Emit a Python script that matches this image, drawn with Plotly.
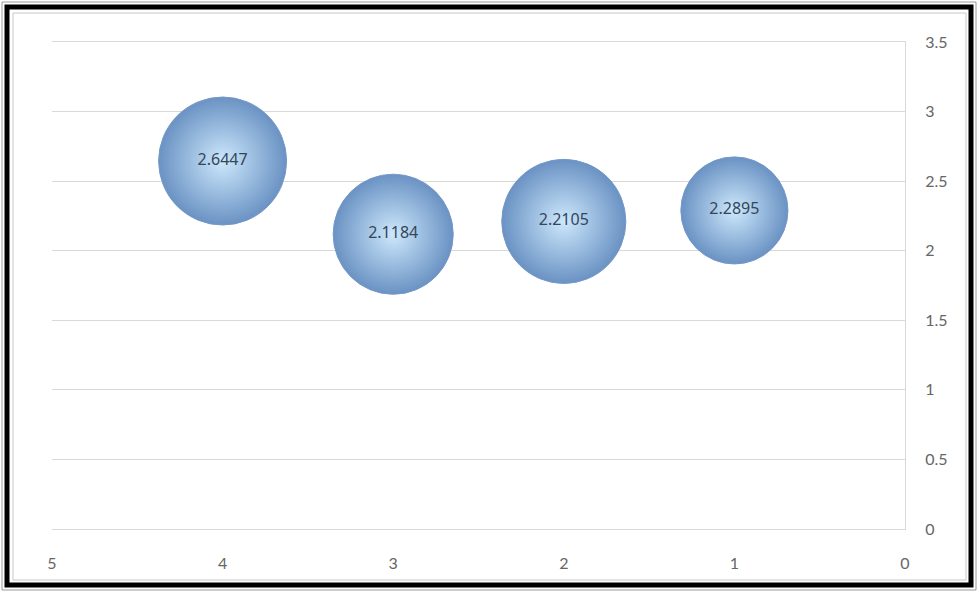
import plotly.graph_objects as go

# Data
x_values = [4, 3, 2, 1]
y_values = [2.6447, 2.1184, 2.2105, 2.2895]
bubble_sizes = [1.00, 0.88, 0.94, 0.70]
labels = ["2.6447", "2.1184", "2.2105", "2.2895"]
x_ticks = [5, 4, 3, 2, 1, 0]
y_ticks = [0, 0.5, 1, 1.5, 2, 2.5, 3, 3.5]

W, H = 978, 592
ML, MR, MT, MB = 52, 73, 42, 63
PW, PH = W - ML - MR, H - MT - MB
MAX_D = 128

fig = go.Figure()
fig.add_trace(go.Scatter(
    x=x_values, y=y_values,
    mode="markers+text",
    text=labels,
    textposition="middle center",
    textfont=dict(family="Noto Sans, Lato, sans-serif", size=16, color="#34465a"),
    marker=dict(
        size=bubble_sizes,
        sizemode="area",
        sizeref=2.0 * max(bubble_sizes) / (MAX_D ** 2),
        color="#6a92c3",
        gradient=dict(type="radial", color="#cde8fc"),
        line=dict(width=1, color="#7499c7"),
        opacity=1,
    ),
    hoverinfo="x+y",
    showlegend=False,
))

def px_x(p):
    return (p - ML) / PW

def px_y(p):
    return 1 - (p - MT) / PH

shapes = []
shapes.append(dict(type="rect", xref="paper", yref="paper",
                   x0=px_x(2), x1=px_x(976), y0=px_y(590), y1=px_y(2),
                   line=dict(color="#9a9a9a", width=1), layer="above"))
shapes.append(dict(type="rect", xref="paper", yref="paper",
                   x0=px_x(7), x1=px_x(971), y0=px_y(585), y1=px_y(7),
                   line=dict(color="#000000", width=5), layer="above"))
shapes.append(dict(type="rect", xref="paper", yref="paper",
                   x0=px_x(13), x1=px_x(966), y0=px_y(580), y1=px_y(13),
                   line=dict(color="#c8c8c8", width=1), layer="above"))

fig.update_layout(
    width=W, height=H,
    margin=dict(l=ML, r=MR, t=MT, b=MB),
    paper_bgcolor="white",
    plot_bgcolor="white",
    shapes=shapes,
    font=dict(family="Lato, Noto Sans, sans-serif", color="#595959", size=16),
    xaxis=dict(
        range=[5, 0],
        tickvals=x_ticks,
        ticktext=[str(v) for v in x_ticks],
        showgrid=False,
        zeroline=False,
        showline=True,
        mirror=True,
        linecolor="#d9d9d9",
        linewidth=1,
        ticks="",
        ticklabelstandoff=20,
        tickfont=dict(size=16, color="#666666"),
    ),
    yaxis=dict(
        range=[0, 3.5],
        side="right",
        tickvals=y_ticks,
        ticktext=[f"{v:g}" for v in y_ticks],
        showgrid=True,
        gridcolor="#d9d9d9",
        gridwidth=1,
        zeroline=False,
        showline=True,
        linecolor="#d9d9d9",
        linewidth=1,
        ticks="",
        ticklabelstandoff=16,
        tickfont=dict(size=16, color="#666666"),
    ),
)

fig.write_html("out.html")
